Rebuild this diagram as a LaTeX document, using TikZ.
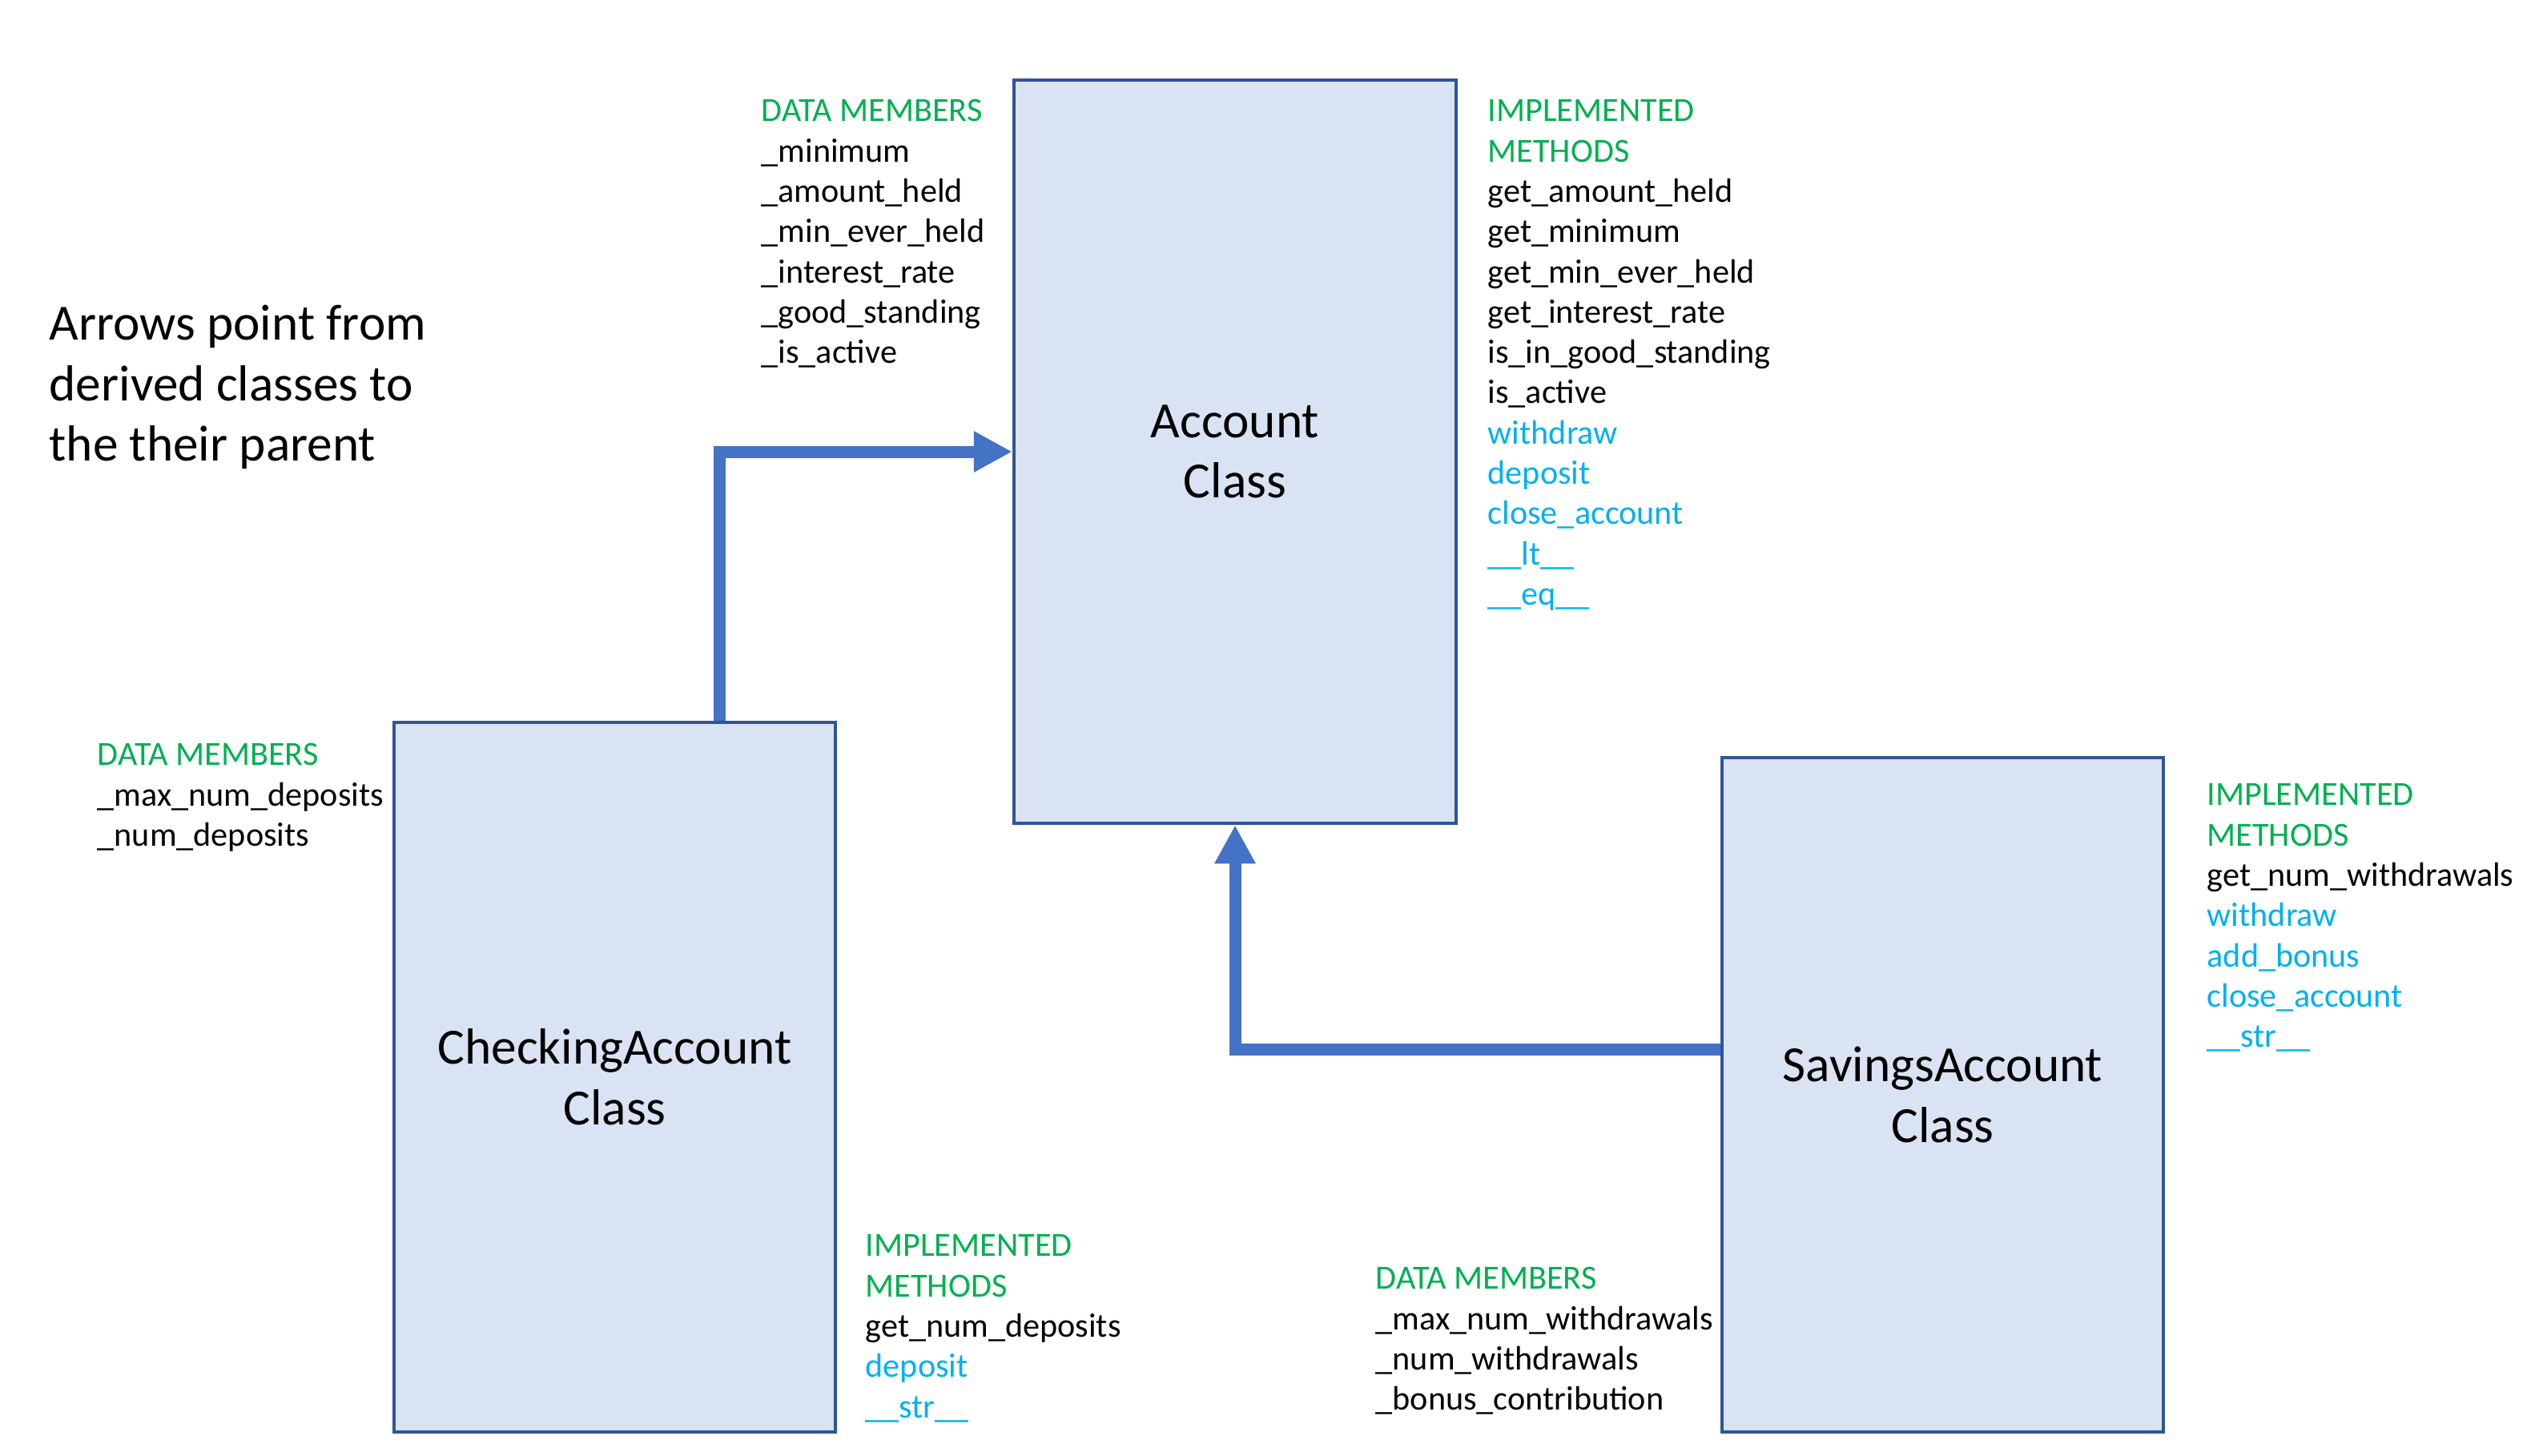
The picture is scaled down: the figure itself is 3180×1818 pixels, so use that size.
\documentclass[tikz,border=0pt]{standalone}
\usepackage{fontspec}
\setmainfont{Carlito}
\usetikzlibrary{arrows.meta}
\definecolor{boxfill}{HTML}{DAE3F3}
\definecolor{boxline}{HTML}{2F5597}
\definecolor{arrowblue}{HTML}{4472C4}
\definecolor{hdgreen}{HTML}{00B050}
\definecolor{mblue}{HTML}{00B0F0}
\tikzset{
  classbox/.style={draw=boxline, fill=boxfill, line width=0.04cm, align=center,
    font=\fontsize{18}{21.5}\selectfont, inner sep=0pt},
  memberlist/.style={anchor=north west, inner sep=0pt, align=left,
    font=\fontsize{12}{14.3}\selectfont},
  conn/.style={draw=arrowblue, line width=0.15cm,
    -{Triangle[width=0.48cm,length=0.48cm]}},
}
\newcommand{\hd}[1]{\textcolor{hdgreen}{#1}}
\newcommand{\mb}[1]{\textcolor{mblue}{#1}}
\begin{document}
\begin{tikzpicture}[x=0.01cm,y=-0.01cm]
\useasboundingbox[fill=white] (0,0) rectangle (3180,1818);

% class boxes
\node[classbox, minimum width=5.52cm, minimum height=9.28cm] (acc) at (1542,564) {Account\\Class};
\node[classbox, minimum width=5.51cm, minimum height=8.86cm] (chk) at (767.5,1345) {CheckingAccount\\Class};
\node[classbox, minimum width=5.51cm, minimum height=8.42cm] (sav) at (2425.5,1367) {SavingsAccount\\Class};

% connectors
\draw[conn] ([xshift=1.305cm]chk.north) |- (acc.west);
\draw[conn] ([yshift=0.56cm]sav.west) -| (acc.south);

% note
\node[anchor=north west, inner sep=0pt, align=left, font=\fontsize{18}{21.5}\selectfont] (note) at (61,371)
  {\strut Arrows point from\\derived classes to\\the their parent};

% Account members
\node[memberlist] (accdata) at (950,116)
  {\strut\hd{DATA MEMBERS}\\\_minimum\\\_amount\_held\\\_min\_ever\_held\\\_interest\_rate\\\_good\_standing\\\_is\_active};
\node[memberlist] (accmeth) at (1857,116)
  {\strut\hd{IMPLEMENTED}\\\hd{METHODS}\\get\_amount\_held\\get\_minimum\\get\_min\_ever\_held\\get\_interest\_rate\\is\_in\_good\_standing\\is\_active\\\mb{withdraw}\\\mb{deposit}\\\mb{close\_account}\\\mb{\_\_lt\_\_}\\\mb{\_\_eq\_\_}};

% Checking members
\node[memberlist] (chkdata) at (121,920)
  {\strut\hd{DATA MEMBERS}\\\_max\_num\_deposits\\\_num\_deposits};
\node[memberlist] (chkmeth) at (1080,1533)
  {\strut\hd{IMPLEMENTED}\\\hd{METHODS}\\get\_num\_deposits\\\mb{deposit}\\\mb{\_\_str\_\_}};

% Savings members
\node[memberlist] (savmeth) at (2755,970)
  {\strut\hd{IMPLEMENTED}\\\hd{METHODS}\\get\_num\_withdrawals\\\mb{withdraw}\\\mb{add\_bonus}\\\mb{close\_account}\\\mb{\_\_str\_\_}};
\node[memberlist] (savdata) at (1717,1574)
  {\strut\hd{DATA MEMBERS}\\\_max\_num\_withdrawals\\\_num\_withdrawals\\\_bonus\_contribution};
\end{tikzpicture}
\end{document}
